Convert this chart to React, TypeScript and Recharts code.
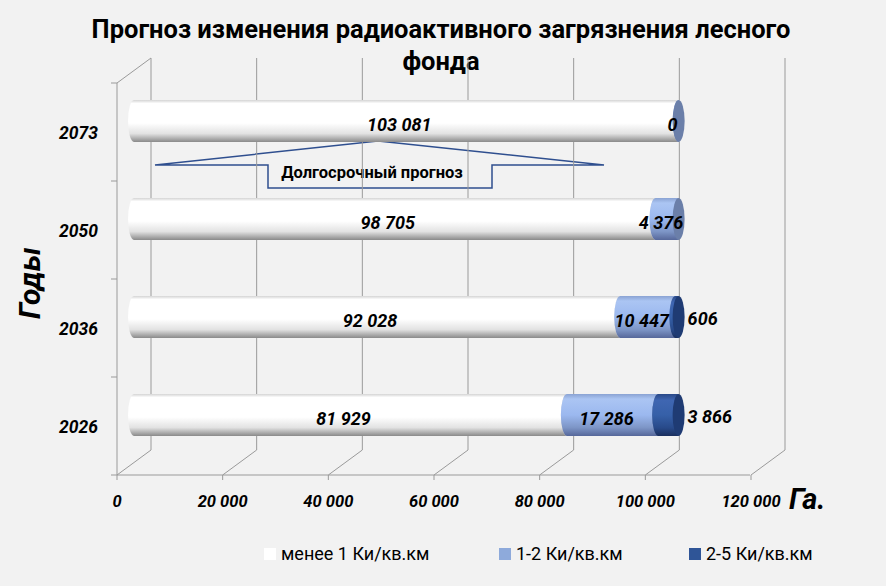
import React from "react";
import {
  BarChart,
  Bar,
  XAxis,
  YAxis,
  CartesianGrid,
  LabelList,
} from "recharts";

// values (hectares)
const years = ["2073", "2050", "2036", "2026"];
const below1 = [103081, 98705, 92028, 81929];
const from1to2 = [0, 4376, 10447, 17286];
const from2to5 = [null, null, 606, 3866];
const seriesNames = ["менее 1 Ки/кв.км", "1-2 Ки/кв.км", "2-5 Ки/кв.км"];
const xTicks = [0, 20000, 40000, 60000, 80000, 100000, 120000];
const xMax = 120000;

const data = years.map((year, i) => ({
  year,
  s1: below1[i],
  s2: from1to2[i],
  s3: from2to5[i],
}));

const FONT = "Roboto, 'Liberation Sans', sans-serif";
const GRID = "#9a9a9a";
const DEPTH_X = 17;
const DEPTH_Y = 12.5;
const FLOOR_Y = 475;

const fmt = (v: number) => String(v).replace(/\B(?=(\d{3})+(?!\d))/g, " ");

// cylinder segment: left end bulges out, right end shows the cap
const cylinder = (key: string, fillId: string, capFill: string) => (props: any) => {
  const { x, y, width, height, payload } = props;
  if (payload == null || payload[key] == null) return <g />;
  const rx = 6;
  const ry = height / 2;
  const d = `M${x},${y} L${x + width},${y} L${x + width},${y + height} L${x},${y + height} A${rx},${ry} 0 0 1 ${x},${y} Z`;
  return (
    <g>
      <path d={d} fill={`url(#${fillId})`} />
      <ellipse cx={x + width} cy={y + ry} rx={rx} ry={ry} fill={capFill} />
    </g>
  );
};

const labelStyle = {
  fontFamily: FONT,
  fontSize: 18,
  fontWeight: 700,
  fontStyle: "italic" as const,
  fill: "#000",
};

const centerLabel = (shift: number) => (p: any) => {
  if (p.value == null) return null;
  const vb = p.viewBox ?? p;
  return (
    <text x={vb.x + vb.width / 2 + shift} y={vb.y + vb.height / 2 + 10} textAnchor="middle" style={labelStyle}>
      {fmt(p.value)}
    </text>
  );
};

const rightLabel = (p: any) => {
  if (p.value == null) return null;
  const vb = p.viewBox ?? p;
  return (
    <text x={vb.x + vb.width + 9} y={vb.y + vb.height / 2 + 8} textAnchor="start" style={labelStyle}>
      {fmt(p.value)}
    </text>
  );
};

const XTick = (props: any) => {
  const { x, payload } = props;
  const fx = x - DEPTH_X;
  return (
    <g>
      <line x1={fx} y1={FLOOR_Y} x2={x + DEPTH_X} y2={FLOOR_Y - 2 * DEPTH_Y} stroke={GRID} />
      <line x1={fx} y1={FLOOR_Y} x2={fx} y2={FLOOR_Y + 5} stroke={GRID} />
      <text
        x={fx}
        y={507}
        textAnchor="middle"
        style={{ fontFamily: FONT, fontSize: 16.5, fontWeight: 700, fontStyle: "italic", fill: "#000" }}
      >
        {fmt(payload.value)}
      </text>
    </g>
  );
};

const YTick = (props: any) => {
  const { y, payload } = props;
  return (
    <text
      x={98}
      y={y + 18}
      textAnchor="end"
      style={{ fontFamily: FONT, fontSize: 17.5, fontWeight: 700, fontStyle: "italic", fill: "#000" }}
    >
      {payload.value}
    </text>
  );
};

const legendColors = ["#ffffff", "#8eaadb", "#2f5597"];
const legendX = [264, 499, 689];

export default function App() {
  return (
    <div style={{ position: "absolute", left: 0, top: 0, width: 886, height: 586, background: "#f2f2f2" }}>
      <svg width={886} height={586} style={{ position: "absolute", left: 0, top: 0 }}>
        <defs>
          <linearGradient id="gWhite" x1="0" y1="0" x2="0" y2="1">
            <stop offset="0%" stopColor="#d4d4d4" />
            <stop offset="8%" stopColor="#ffffff" />
            <stop offset="55%" stopColor="#ffffff" />
            <stop offset="80%" stopColor="#e2e2e2" />
            <stop offset="100%" stopColor="#8a8a8a" />
          </linearGradient>
          <linearGradient id="gLight" x1="0" y1="0" x2="0" y2="1">
            <stop offset="0%" stopColor="#8aa3d3" />
            <stop offset="12%" stopColor="#abc5f3" />
            <stop offset="50%" stopColor="#9bb8ef" />
            <stop offset="80%" stopColor="#7d95c6" />
            <stop offset="100%" stopColor="#56679a" />
          </linearGradient>
          <linearGradient id="gDark" x1="0" y1="0" x2="0" y2="1">
            <stop offset="0%" stopColor="#2a4988" />
            <stop offset="15%" stopColor="#3f66b2" />
            <stop offset="50%" stopColor="#3660a8" />
            <stop offset="80%" stopColor="#284a8a" />
            <stop offset="100%" stopColor="#1a2f5e" />
          </linearGradient>
        </defs>

        {/* left wall and floor edge */}
        <line x1={117} y1={83} x2={117} y2={FLOOR_Y} stroke={GRID} />
        <line x1={117} y1={83} x2={151} y2={58} stroke={GRID} />
        <line x1={117} y1={FLOOR_Y} x2={750} y2={FLOOR_Y} stroke={GRID} />
        {[83, 181, 279, 377, 475].map((ty) => (
          <line key={ty} x1={111} y1={ty} x2={117} y2={ty} stroke={GRID} />
        ))}

        <text x={441} y={38} textAnchor="middle" style={{ fontFamily: FONT, fontSize: 25.5, fontWeight: 700 }}>
          Прогноз изменения радиоактивного загрязнения лесного
        </text>
        <text x={441} y={70} textAnchor="middle" style={{ fontFamily: FONT, fontSize: 25.5, fontWeight: 700 }}>
          фонда
        </text>

        <text
          x={40}
          y={283}
          transform="rotate(-90 40 283)"
          textAnchor="middle"
          style={{ fontFamily: FONT, fontSize: 30, fontWeight: 700, fontStyle: "italic" }}
        >
          Годы
        </text>
        <text x={789} y={509} style={{ fontFamily: FONT, fontSize: 29, fontWeight: 700, fontStyle: "italic" }}>
          Га.
        </text>

        {/* callout */}
        <polygon
          points="155,165 268,165 268,188 492,188 492,165 604,165 378,141"
          fill="none"
          stroke="#2f4f8f"
          strokeWidth={1.5}
        />
        <text x={372} y={178} textAnchor="middle" style={{ fontFamily: FONT, fontSize: 16.5, fontWeight: 700 }}>
          Долгосрочный прогноз
        </text>

        {seriesNames.map((name, i) => (
          <g key={name}>
            <rect x={legendX[i]} y={548} width={12} height={12} fill={legendColors[i]} />
            <text x={legendX[i] + 17} y={560} style={{ fontFamily: FONT, fontSize: 18, fill: "#000" }}>
              {name}
            </text>
          </g>
        ))}
      </svg>

      <div style={{ position: "absolute", left: 0, top: 0 }}>
        <BarChart
          width={886}
          height={586}
          data={data}
          layout="vertical"
          margin={{ top: 72, right: 118, bottom: 92, left: 20 }}
          barSize={42}
        >
          <CartesianGrid
            horizontal={false}
            stroke={GRID}
            y={58}
            height={392}
            verticalCoordinatesGenerator={({ offset }: any) =>
              xTicks.map((v) => offset.left + (v / xMax) * offset.width + DEPTH_X)
            }
          />
          <XAxis
            type="number"
            domain={[0, xMax]}
            ticks={xTicks}
            tick={<XTick />}
            axisLine={false}
            tickLine={false}
            height={30}
          />
          <YAxis
            type="category"
            dataKey="year"
            width={114}
            tick={<YTick />}
            axisLine={false}
            tickLine={false}
          />
          <Bar dataKey="s1" stackId="a" isAnimationActive={false} shape={cylinder("s1", "gWhite", "#e4e4e4")}>
            <LabelList dataKey="s1" content={centerLabel(-7)} />
          </Bar>
          <Bar dataKey="s2" stackId="a" isAnimationActive={false} shape={cylinder("s2", "gLight", "#6b7fa9")}>
            <LabelList dataKey="s2" content={centerLabel(-6)} />
          </Bar>
          <Bar dataKey="s3" stackId="a" isAnimationActive={false} shape={cylinder("s3", "gDark", "#1f3b73")}>
            <LabelList dataKey="s3" content={rightLabel} />
          </Bar>
        </BarChart>
      </div>
    </div>
  );
}
